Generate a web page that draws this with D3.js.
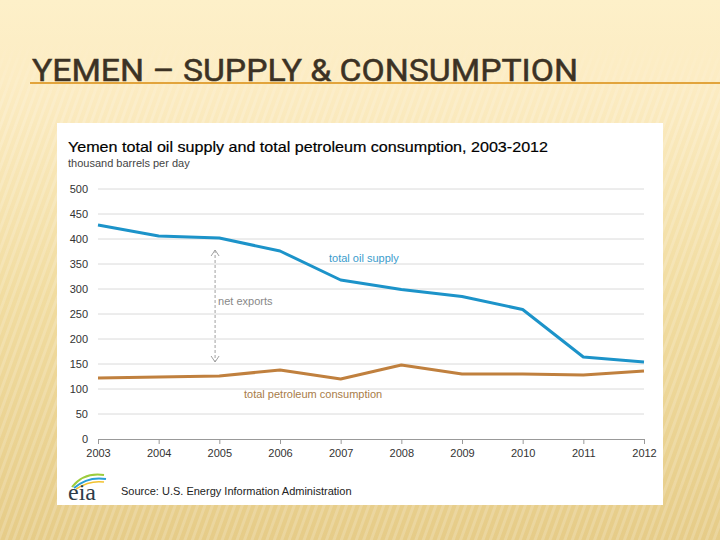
<!DOCTYPE html>
<html>
<head>
<meta charset="utf-8">
<script src="https://cdn.jsdelivr.net/npm/d3@7"></script>
<style>
  html, body { margin: 0; padding: 0; background: #fcefc8; }
  svg { display: block; }
</style>
</head>
<body>
<svg id="chart" width="720" height="540"></svg>
<script>
// ---- data ----
const years = [2003, 2004, 2005, 2006, 2007, 2008, 2009, 2010, 2011, 2012];
const yearLabels = ["2003", "2004", "2005", "2006", "2007", "2008", "2009", "2010", "2011", "2012"];
const oilSupply = [428, 406, 402, 376, 318, 299, 285, 259, 164, 154];
const petroleumConsumption = [122, 124, 126, 138, 120, 148, 130, 130, 128, 136];
const yTicks = [0, 50, 100, 150, 200, 250, 300, 350, 400, 450, 500];

const slideTitle = "YEMEN \u2013 SUPPLY & CONSUMPTION";
const chartTitle = "Yemen total oil supply and total petroleum consumption, 2003-2012";
const unitsLabel = "thousand barrels per day";
const supplyLabel = "total oil supply";
const consumptionLabel = "total petroleum consumption";
const netLabel = "net exports";
const sourceLabel = "Source: U.S. Energy Information Administration";

const svg = d3.select("#chart");
const defs = svg.append("defs");

// background gradient + stripes
const bg = defs.append("linearGradient").attr("id", "bg").attr("x1", 0).attr("y1", 0).attr("x2", 0).attr("y2", 1);
bg.append("stop").attr("offset", "0").attr("stop-color", "#fdf0c9");
bg.append("stop").attr("offset", "0.15").attr("stop-color", "#fcecc3");
bg.append("stop").attr("offset", "0.55").attr("stop-color", "#f1dca0");
bg.append("stop").attr("offset", "1").attr("stop-color", "#e6cc88");
svg.append("rect").attr("width", 720).attr("height", 540).attr("fill", "url(#bg)");

const pat = defs.append("pattern").attr("id", "stripes").attr("patternUnits", "userSpaceOnUse")
  .attr("width", 7).attr("height", 7).attr("patternTransform", "rotate(20)");
pat.append("rect").attr("width", 3).attr("height", 7).attr("fill", "#ffffff").attr("opacity", 0.18);
const fade = defs.append("linearGradient").attr("id", "fade").attr("x1", 0).attr("y1", 0).attr("x2", 0).attr("y2", 1);
fade.append("stop").attr("offset", "0").attr("stop-color", "#fff").attr("stop-opacity", 0);
fade.append("stop").attr("offset", "0.07").attr("stop-color", "#fff").attr("stop-opacity", 0);
fade.append("stop").attr("offset", "0.2").attr("stop-color", "#fff").attr("stop-opacity", 1);
fade.append("stop").attr("offset", "1").attr("stop-color", "#fff").attr("stop-opacity", 1);
const mask = defs.append("mask").attr("id", "fadeMask");
mask.append("rect").attr("width", 720).attr("height", 540).attr("fill", "url(#fade)");
svg.append("rect").attr("width", 720).attr("height", 540).attr("fill", "url(#stripes)").attr("mask", "url(#fadeMask)");

// slide title
svg.append("line").attr("x1", 30).attr("x2", 720).attr("y1", 83).attr("y2", 83)
  .attr("stroke", "#e2a43c").attr("stroke-width", 2);
svg.append("text").attr("x", 32).attr("y", 81)
  .attr("font-family", "Roboto, 'Liberation Sans', sans-serif")
  .attr("font-size", 31).attr("font-weight", 400).attr("fill", "#3c3224")
  .attr("stroke", "#3c3224").attr("stroke-width", 0.5)
  .attr("textLength", 546).attr("lengthAdjust", "spacingAndGlyphs")
  .text(slideTitle);

// white panel
svg.append("rect").attr("x", 57).attr("y", 123).attr("width", 606).attr("height", 382).attr("fill", "#ffffff");

const font = "'Liberation Sans', Arial, sans-serif";

// chart title and units
svg.append("text").attr("x", 68).attr("y", 152).attr("font-family", font)
  .attr("font-size", 15).attr("fill", "#000").attr("stroke", "#000").attr("stroke-width", 0.2)
  .attr("textLength", 480).attr("lengthAdjust", "spacingAndGlyphs")
  .text(chartTitle);
svg.append("text").attr("x", 68).attr("y", 167).attr("font-family", font)
  .attr("font-size", 11).attr("fill", "#444").text(unitsLabel);

// scales
const x = d3.scaleLinear().domain([2003, 2012]).range([98, 644]);
const y = d3.scaleLinear().domain([0, 500]).range([439, 189]);

// gridlines
svg.append("g").selectAll("line").data(yTicks.filter(d => d > 0)).join("line")
  .attr("x1", 98).attr("x2", 644)
  .attr("y1", d => y(d)).attr("y2", d => y(d))
  .attr("stroke", "#dadada").attr("stroke-width", 1);

// y tick labels
svg.append("g").selectAll("text").data(yTicks).join("text")
  .attr("x", 88).attr("y", d => y(d)).attr("dy", "0.35em")
  .attr("text-anchor", "end")
  .attr("font-family", font).attr("font-size", 11).attr("fill", "#333")
  .text(d => d);

// x axis
const xAxis = d3.axisBottom(x).tickValues(years).tickFormat((d, i) => yearLabels[i]).tickSize(5).tickSizeOuter(0);
const gx = svg.append("g").attr("transform", `translate(0,${y(0)})`).call(xAxis);
gx.select(".domain").attr("stroke", "#999");
gx.selectAll(".tick line").attr("stroke", "#999");
gx.selectAll(".tick text").attr("font-family", font).attr("font-size", 11).attr("fill", "#333").attr("dy", "0.9em");

// net exports arrow (dashed)
const ax = x(2004.93);
const ay1 = y(oilSupply[2]) + 12, ay2 = y(petroleumConsumption[2]) - 14;
svg.append("line").attr("x1", ax).attr("x2", ax).attr("y1", ay1).attr("y2", ay2)
  .attr("stroke", "#a0a0a0").attr("stroke-width", 1).attr("stroke-dasharray", "3,2");
svg.append("path").attr("d", `M${ax - 4},${ay1 + 6} L${ax},${ay1} L${ax + 4},${ay1 + 6}`)
  .attr("fill", "none").attr("stroke", "#a0a0a0").attr("stroke-width", 1);
svg.append("path").attr("d", `M${ax - 4},${ay2 - 6} L${ax},${ay2} L${ax + 4},${ay2 - 6}`)
  .attr("fill", "none").attr("stroke", "#a0a0a0").attr("stroke-width", 1);
svg.append("text").attr("x", ax + 3).attr("y", 305).attr("font-family", font)
  .attr("font-size", 11).attr("fill", "#888").text(netLabel);

// lines
const line = d3.line().x((d, i) => x(years[i])).y(d => y(d));
svg.append("path").datum(petroleumConsumption).attr("d", line)
  .attr("fill", "none").attr("stroke", "#c0803e").attr("stroke-width", 3).attr("stroke-linejoin", "round");
svg.append("path").datum(oilSupply).attr("d", line)
  .attr("fill", "none").attr("stroke", "#1c93c9").attr("stroke-width", 3).attr("stroke-linejoin", "round");

// series labels
svg.append("text").attr("x", 329).attr("y", 262).attr("font-family", font)
  .attr("font-size", 11).attr("fill", "#3a9ccc").text(supplyLabel);
svg.append("text").attr("x", 244).attr("y", 398).attr("font-family", font)
  .attr("font-size", 11).attr("fill", "#a87c48").text(consumptionLabel);

// source + eia logo
svg.append("text").attr("x", 121).attr("y", 495).attr("font-family", font)
  .attr("font-size", 11).attr("fill", "#222").text(sourceLabel);
svg.append("path").attr("d", "M72,487 Q84,472 104,475").attr("fill", "none").attr("stroke", "#9ccc3c").attr("stroke-width", 2);
svg.append("path").attr("d", "M74,488 Q88,476 106,479").attr("fill", "none").attr("stroke", "#2a9fd6").attr("stroke-width", 2);
svg.append("path").attr("d", "M76,489 Q90,480 104,482").attr("fill", "none").attr("stroke", "#f2c230").attr("stroke-width", 1.5);
svg.append("text").attr("x", 68).attr("y", 500).attr("font-family", "'Liberation Serif', 'DejaVu Serif', serif")
  .attr("font-size", 24).attr("fill", "#2e3c48").text("eia");
</script>
</body>
</html>
